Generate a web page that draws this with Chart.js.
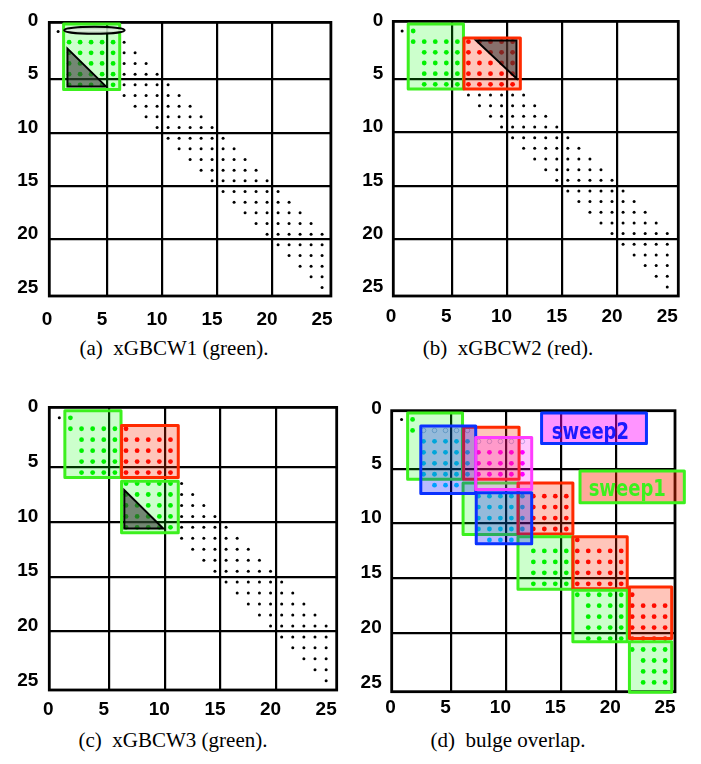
<!DOCTYPE html>
<html><head><meta charset="utf-8">
<script src="https://cdn.jsdelivr.net/npm/chart.js@4/dist/chart.umd.min.js"></script>
<style>
html,body{margin:0;padding:0;background:#fff;}
#wrap{position:relative;width:701px;height:764px;overflow:hidden;background:#fff;}
canvas{position:absolute;}
.cap{position:absolute;font-family:"Liberation Serif","Times New Roman",serif;font-size:21px;line-height:21px;color:#000;white-space:pre;transform:translateX(-50%);}
</style></head><body>
<div id="wrap">
<canvas id="ca" width="345" height="335" style="left:0;top:0"></canvas>
<canvas id="cb" width="356" height="335" style="left:345px;top:0"></canvas>
<canvas id="cc" width="345" height="340" style="left:0;top:385px"></canvas>
<canvas id="cd" width="356" height="340" style="left:345px;top:385px"></canvas>
<div class="cap" style="left:174px;top:338px">(a)  xGBCW1 (green).</div>
<div class="cap" style="left:508px;top:338px">(b)  xGBCW2 (red).</div>
<div class="cap" style="left:173px;top:730px">(c)  xGBCW3 (green).</div>
<div class="cap" style="left:508px;top:730px">(d)  bulge overlap.</div>
</div>
<script>
// ---------- data (matrix rows / columns, 1-based) ----------
const tickLabels = [0, 5, 10, 15, 20, 25];
const gridBreaks = [5.5, 10.5, 15.5, 20.5];

// nonzero runs: [row, firstCol, lastCol]
const bandRowsLower = [[12,12,17],[13,13,18],[14,14,19],[15,15,20],[16,16,21],[17,17,22],[18,18,23],
  [19,19,24],[20,20,25],[21,21,25],[22,22,25],[23,23,25],[24,24,25],[25,25,25]];

const blackA = [[1,1,1],[2,7,7],[3,7,8],[4,7,9],[5,7,10],[6,7,11],[7,7,12],[8,8,13],[9,9,14],[10,10,15],[11,11,16], ...bandRowsLower];
const greenA = [[2,2,6],[3,2,6],[4,2,6],[5,2,6],[6,2,6]];

const blackB = [[1,1,1],[7,7,12],[8,8,13],[9,9,14],[10,10,15],[11,11,16], ...bandRowsLower];
const greenB = [[1,2,2],[2,2,6],[3,3,6],[4,3,6],[5,3,6],[6,3,6]];
const redB   = [[2,7,11],[3,7,11],[4,7,11],[5,7,11],[6,7,11]];

const blackC = [[1,1,1],[7,12,12],[8,12,13],[9,12,14],[10,12,15],[11,12,16], ...bandRowsLower];
const greenC = [[1,2,2],[2,2,6],[3,3,6],[4,3,6],[5,3,6],[6,3,6],[7,7,11],[8,7,11],[9,7,11],[10,7,11],[11,7,11]];
const redC   = [[2,7,7],[3,7,11],[4,7,11],[5,7,11],[6,7,11]];

const blackD   = [[1,1,1]];
const greenD   = [[1,2,2],[2,2,2],[13,13,16],[14,13,16],[15,13,16],[16,13,16],[17,17,21],[18,18,21],[19,18,21],
  [20,18,21],[21,18,21],[22,22,25],[23,23,25],[24,23,25],[25,23,25]];
const redD     = [[8,13,16],[9,13,16],[10,13,16],[11,13,16],[12,17,17],[13,17,21],[14,17,21],[15,17,21],[16,17,21],
  [17,22,22],[18,22,25],[19,22,25],[20,22,25],[21,22,25]];
const cyanD    = [[3,3,7],[4,3,7],[5,3,7],[6,3,7],[7,4,6],[8,8,12],[9,8,12],[10,8,12],[11,8,12],[12,9,11]];
const magentaD = [[4,8,12],[5,8,12],[6,8,12]];
const hollowD  = [[2,3,7],[3,8,12]];

// task blocks: [colFrom, colTo, rowFrom, rowTo]
const blocksA = [[1.5,6.6,0.3,6.45]];
const blocksB = [[1.55,6.55,0.35,6.45],[6.6,11.7,1.65,6.45]];
const blocksC = [[1.5,6.55,0.35,6.45],[6.6,11.7,1.7,6.45],[6.6,11.7,6.8,11.5]];
const sweep1D = [[1.55,6.55,0.4,6.45],[6.65,11.7,1.7,6.45],[6.6,11.65,6.8,11.5],[11.6,16.6,6.8,11.45],
  [11.6,16.6,11.7,16.5],[16.6,21.55,11.7,16.45],[16.6,21.55,16.6,21.3],[21.75,25.6,16.3,21.0],[21.75,25.6,21.3,25.9]];
const sweep2D = [[2.75,7.75,1.6,7.75],[7.75,12.85,2.65,7.4],[7.8,12.85,7.7,12.35]];
const sweepLabelBoxes = [[13.75,23.3,0.4,3.2],[17.25,26.75,5.7,8.6]];
const sweepLabels = [['sweep2',18.2,2.75],['sweep1',21.55,7.97]];

// bulge triangles: [[col,row],...]
const bulgeA = [[1.85,2.6],[1.85,6.15],[5.35,6.15]];
const bulgeB = [[7.7,1.9],[11.35,1.9],[11.35,5.45]];
const bulgeC = [[6.85,7.6],[6.85,11.1],[10.35,11.1]];
// annihilated row in (a): [centerCol, centerRow, halfWidthCols, halfHeightRows]
const ellipseA = [4.3, 0.88, 2.75, 0.33];

// ---------- styles ----------
const dotStyle = {
  black:{c:'#000000', r:1.5},
  green:{c:'#00ee00', r:2.4},
  red:{c:'#ff0000', r:2.4},
  cyan:{c:'#00dcff', r:2.4},
  magenta:{c:'#ff00ff', r:2.4},
  hollow:{c:'rgba(0,0,0,0)', r:2.3, b:'rgba(30,110,160,0.35)'}
};
const boxStyle = {
  green:{f:'rgba(0,255,0,0.2)', s:'#3cf01e'},
  red:{f:'rgba(255,40,0,0.27)', s:'#ff2a00'},
  blue:{f:'rgba(0,0,255,0.27)', s:'#0a32ff'},
  magenta:{f:'rgba(255,0,255,0.22)', s:'#ff3cff'},
  lab2:{f:'rgba(255,0,255,0.42)', s:'#0a32ff', t:'#1a1aff'},
  lab1:{f:'rgba(255,40,0,0.4)', s:'#3cf01e', t:'#3cf01e'}
};

const tickPositions = [...tickLabels, ...gridBreaks].sort((a,b)=>a-b);

function expand(runs){
  const pts = [];
  runs.forEach(([r,c0,c1]) => { for (let c=c0;c<=c1;c++) pts.push({x:c,y:r}); });
  return pts;
}

function shapesPlugin(p){
  return {
    id:'shapes_'+p.canvas,
    beforeDatasetsDraw(chart){
      const {ctx, chartArea:a} = chart;
      ctx.save(); ctx.lineWidth = 2.8; ctx.strokeStyle = '#000';
      ctx.strokeRect(a.left, a.top, a.right-a.left, a.bottom-a.top);
      ctx.restore();
    },
    afterDatasetsDraw(chart){
      const {ctx} = chart;
      const X = v => chart.scales.x.getPixelForValue(v);
      const Y = v => chart.scales.y.getPixelForValue(v);
      ctx.save();
      (p.boxes||[]).forEach(([b,k]) => {
        const st = boxStyle[k];
        const x0=X(b[0]), x1=X(b[1]), y0=Y(b[2]), y1=Y(b[3]);
        ctx.fillStyle = st.f; ctx.fillRect(x0,y0,x1-x0,y1-y0);
        ctx.lineWidth = 3; ctx.strokeStyle = st.s; ctx.lineJoin='round';
        ctx.strokeRect(x0,y0,x1-x0,y1-y0);
      });
      (p.tris||[]).forEach(t => {
        ctx.beginPath();
        t.forEach(([c,r],i) => { if(i===0) ctx.moveTo(X(c),Y(r)); else ctx.lineTo(X(c),Y(r)); });
        ctx.closePath();
        ctx.fillStyle = 'rgba(55,55,55,0.6)'; ctx.fill();
        ctx.lineWidth = 2; ctx.strokeStyle = '#000'; ctx.lineJoin='miter'; ctx.stroke();
      });
      if (p.ellipse){
        const [c,r,hw,hh] = p.ellipse;
        const cx=X(c), cy=Y(r), rx=Math.abs(X(c+hw)-cx), ry=Math.abs(Y(r+hh)-cy);
        const g = ctx.createLinearGradient(0,cy-ry,0,cy+ry);
        g.addColorStop(0,'rgba(150,170,150,0.8)'); g.addColorStop(0.5,'rgba(235,245,235,0.85)'); g.addColorStop(1,'rgba(150,170,150,0.8)');
        ctx.beginPath(); ctx.ellipse(cx,cy,rx,ry,0,0,Math.PI*2);
        ctx.fillStyle = g; ctx.fill();
        ctx.lineWidth = 2; ctx.strokeStyle = '#000'; ctx.stroke();
      }
      (p.labels||[]).forEach(([txt,c,r,k]) => {
        ctx.save();
        ctx.translate(X(c), Y(r));
        ctx.scale(1, 1.3);
        ctx.font = 'bold 18px "DejaVu Sans", sans-serif';
        ctx.textAlign = 'center'; ctx.textBaseline = 'alphabetic';
        ctx.fillStyle = boxStyle[k].t;
        ctx.fillText(txt, 0, 0);
        ctx.restore();
      });
      ctx.restore();
    }
  };
}

function axisCfg(which, p){
  const range = which==='x' ? p.xr : p.yr;
  return {
    type:'linear', min:range[0], max:range[1], reverse: which==='y',
    afterBuildTicks: s => { s.ticks = tickPositions.map(v => ({value:v})); },
    afterFit: s => { if (which==='x') s.height = p.xH; else s.width = p.yW; },
    grid:{ color: c => (c.tick && gridBreaks.includes(c.tick.value)) ? '#000' : 'rgba(0,0,0,0)', lineWidth:2.2, drawTicks:false },
    border:{display:false},
    ticks:{ autoSkip:false, maxRotation:0, minRotation:0, padding: which==='x' ? p.xPad : p.yPad, color:'#000',
      font:{family:'"Liberation Sans", Arial, sans-serif', size:19, weight:'bold'},
      callback: v => tickLabels.includes(v) ? String(v) : '' }
  };
}

function makePanel(p){
  const datasets = p.dots.map(([runs,key]) => {
    const st = dotStyle[key];
    return { data: expand(runs), showLine:false, pointRadius: st.r, pointHoverRadius: st.r,
      pointBackgroundColor: st.c, pointBorderColor: st.b || st.c, pointBorderWidth: st.b ? 1 : 0 };
  });
  new Chart(document.getElementById(p.canvas), {
    type:'scatter',
    data:{datasets},
    options:{
      responsive:false, animation:false, events:[],
      layout:{padding:p.pad},
      plugins:{legend:{display:false}, tooltip:{enabled:false}},
      scales:{ x: axisCfg('x',p), y: axisCfg('y',p) }
    },
    plugins:[shapesPlugin(p)]
  });
}

makePanel({ canvas:'ca', xr:[0.2,25.8], yr:[0.15,25.8], pad:{left:0,top:11.7,right:11,bottom:0}, yW:49.3, xH:39, xPad:12, yPad:11,
  dots:[[blackA,'black'],[greenA,'green']],
  boxes: blocksA.map(b => [b,'green']), tris:[bulgeA], ellipse: ellipseA });

makePanel({ canvas:'cb', xr:[0.2,26.0], yr:[0.1,25.85], pad:{left:0,top:11.7,right:22.7,bottom:0}, yW:48.3, xH:39, xPad:9, yPad:10,
  dots:[[blackB,'black'],[greenB,'green'],[redB,'red']],
  boxes: [[blocksB[0],'green'],[blocksB[1],'red']], tris:[bulgeB] });

makePanel({ canvas:'cc', xr:[0.1,25.95], yr:[0.05,25.85], pad:{left:0,top:19,right:8.3,bottom:0}, yW:49.3, xH:35, xPad:8, yPad:11,
  dots:[[blackC,'black'],[greenC,'green'],[redC,'red']],
  boxes: [[blocksC[0],'green'],[blocksC[1],'red'],[blocksC[2],'green']], tris:[bulgeC] });

makePanel({ canvas:'cd', xr:[0.1,25.9], yr:[0.2,25.85], pad:{left:0,top:25.7,right:26,bottom:0}, yW:46.7, xH:33.3, xPad:5, yPad:10,
  dots:[[blackD,'black'],[hollowD,'hollow'],[greenD,'green'],[redD,'red'],[cyanD,'cyan'],[magentaD,'magenta']],
  boxes: [
    ...sweep1D.map((b,i) => [b, i%2===0 ? 'green' : 'red']),
    [sweep2D[0],'blue'],[sweep2D[1],'magenta'],[sweep2D[2],'blue'],
    [sweepLabelBoxes[0],'lab2'],[sweepLabelBoxes[1],'lab1']
  ],
  labels: [[sweepLabels[0][0],sweepLabels[0][1],sweepLabels[0][2],'lab2'],[sweepLabels[1][0],sweepLabels[1][1],sweepLabels[1][2],'lab1']] });
</script>
</body></html>
